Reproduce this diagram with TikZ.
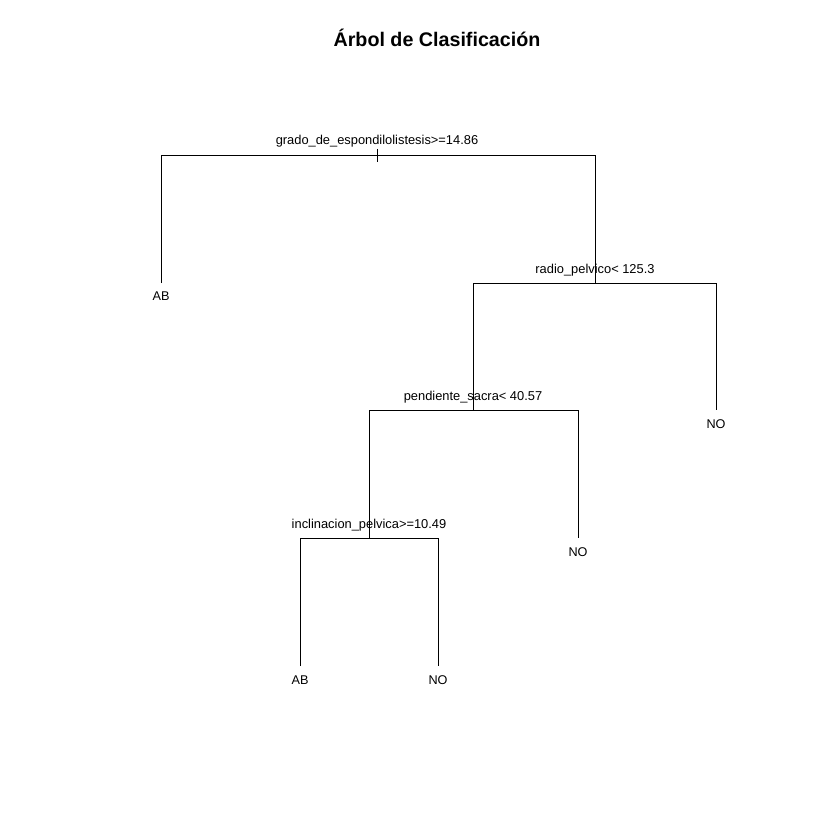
\documentclass[tikz,border=0pt]{standalone}
\usepackage{fontspec}
\setmainfont{Liberation Sans}

\begin{document}
\begin{tikzpicture}[x=0.025cm, y=-0.025cm, line width=0.7pt,
                    split/.style={anchor=base, inner sep=0pt, font=\fontsize{9.15}{10}\selectfont},
                    leaf/.style={anchor=base, inner sep=0pt, font=\fontsize{9}{10}\selectfont}]
                        \useasboundingbox (0, 0) rectangle (840, 840);
                        \node (title) at (437, 47) [anchor=base, inner sep=0pt, font=\bfseries\fontsize{14}{16}\selectfont] {Árbol de Clasificación};
                        
                        % splits
                        \coordinate (S1) at (377, 155);
                        \coordinate (S2) at (595, 283);
                        \coordinate (S3) at (473, 410);
                        \coordinate (S4) at (369, 538);
                        
                        % leaves
                        \coordinate (F1) at (161, 283);
                        \coordinate (F2) at (716, 410);
                        \coordinate (F3) at (578, 538);
                        \coordinate (F4) at (300, 666);
                        \coordinate (F5) at (438, 666);
                        
                        \node (L1) at (377, 145) [split] {grado\_de\_espondilolistesis>=14.86};
                        \node (L2) at (595, 273) [split] {radio\_pelvico< 125.3};
                        \node (L3) at (473, 400) [split] {pendiente\_sacra< 40.57};
                        \node (L4) at (369, 528) [split] {inclinacion\_pelvica>=10.49};
                        
                        \node (AB1) at (161, 300) [leaf] {AB};
                        \node (NO1) at (716, 428) [leaf] {NO};
                        \node (NO2) at (578, 556) [leaf] {NO};
                        \node (AB2) at (300, 684) [leaf] {AB};
                        \node (NO3) at (438, 684) [leaf] {NO};
                        
                        \draw (S1) ++(0, -6) -- ++(0, 13);
                        \draw (F1) |- (S1 -| S2) -- (S2);
                        \draw (S3) |- (S2 -| F2) -- (F2);
                        \draw (S4) |- (S3 -| F3) -- (F3);
                        \draw (F4) |- (S4 -| F5) -- (F5);
                    \end{tikzpicture}
\end{document}
